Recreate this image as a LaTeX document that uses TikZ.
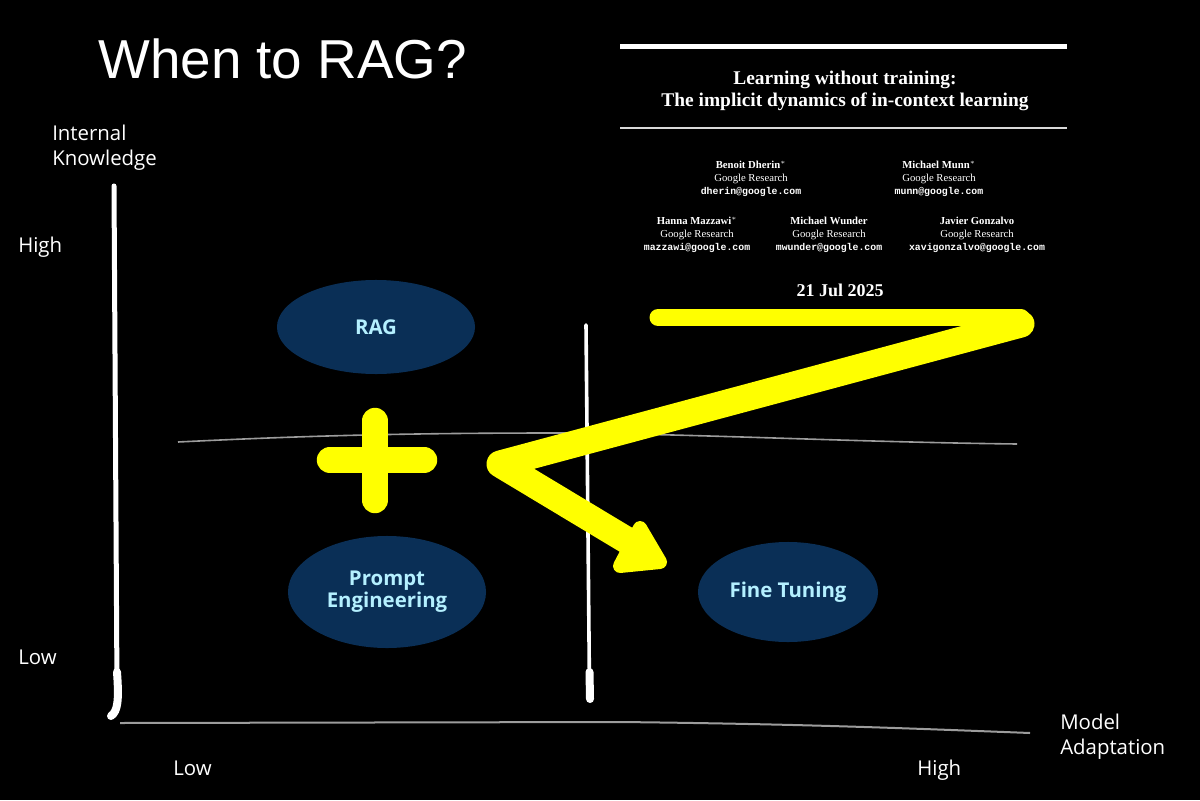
\documentclass[tikz,border=0pt]{standalone}
\usepackage{fontspec}
\setmainfont{Liberation Serif}
\setsansfont{Open Sans}
\setmonofont{Liberation Mono}
\newfontfamily\headfont{Liberation Sans}
\usepackage{tikz}
\usetikzlibrary{arrows.meta,positioning,shapes.geometric}
\definecolor{navy}{HTML}{0A2F56}
\definecolor{ice}{HTML}{B4F0FF}
\definecolor{marker}{HTML}{FFFF00}
\definecolor{rule}{HTML}{9C9C9C}
\newcommand{\gr}{Google Research}
\newcommand{\byline}[2]{\textbf{#1}\\\gr\\{\ttfamily\bfseries\fontsize{7}{9.2}\selectfont #2}}

\begin{document}
\begin{tikzpicture}[x=0.025cm,y=-0.025cm,
   blob/.style={ellipse,fill=navy,text=ice,inner sep=0pt,align=center,font=\sffamily\bfseries\fontsize{14.5}{15.5}\selectfont},
   lbl/.style={text=white,inner sep=0pt,align=left,font=\sffamily\fontsize{14.5}{17.8}\selectfont},
   who/.style={text=white,inner sep=0pt,align=center,font=\fontsize{7.6}{9.2}\selectfont},
   hl/.style={marker,line cap=round,line join=round}]
  \fill[black] (0,0) rectangle (1200,800);
  \useasboundingbox (0,0) rectangle (1200,800);
  % slide title
  \node[text=white,inner sep=0pt,anchor=base west,font=\headfont\fontsize{39}{44}\selectfont] (ttl) at (98,79) {When to RAG?};
  % axes
  \draw[white,line width=0.125cm,line cap=round] (114,186) -- (117,690);
  \draw[white,line width=0.2cm,line cap=round] (117,672) .. controls (119,700) and (118,711) .. (111,716);
  \draw[rule,line width=0.05cm] (120,723) -- (620,722) .. controls (800,724) and (900,728) .. (1030,733);
  \draw[rule,line width=0.04cm] (178,442) .. controls (300,436) and (400,433) .. (560,433) .. controls (700,434) and (850,442) .. (1017,444);
  \draw[white,line width=0.09cm,line cap=round] (586,325) -- (589.5,690);
  \draw[white,line width=0.2cm,line cap=round] (589.5,672) -- (590,699);
  \node[lbl,anchor=north west] (yname) at (52,125) {Internal\\Knowledge};
  \node[lbl,anchor=base west] (yhi) at (18,252) {High};
  \node[lbl,anchor=base west] (ylo) at (18,664) {Low};
  \node[lbl,anchor=base west] (xlo) at (173,775) {Low};
  \node[lbl,anchor=base west] (xhi) at (917,775) {High};
  \node[lbl,anchor=north west] (xname) at (1060,714) {Model\\Adaptation};
  % quadrants
  \node[blob,minimum width=4.95cm,minimum height=2.35cm] (rag) at (376,327) {RAG};
  \node[blob,minimum width=4.95cm,minimum height=2.8cm] (prompt) at (387,592) {Prompt\\Engineering};
  \node[blob,minimum width=4.5cm,minimum height=2.5cm] (tune) at (788,592) {Fine Tuning};
  % paper header
  \draw[white,line width=0.125cm] (620,47) -- (1067,47);
  \draw[white!85!black,line width=0.05cm] (620,128) -- (1067,128);
  \node[text=white,inner sep=0pt,align=center,font=\bfseries\fontsize{13.8}{16}\selectfont] (paper) at (845,91) {Learning without training:\\The implicit dynamics of in-context learning};
  \node[who] (a1) at (751,179) {\byline{Benoit Dherin$^*$}{dherin@google.com}};
  \node[who] (a2) at (939,179) {\byline{Michael Munn$^*$}{munn@google.com}};
  \node[who] (a3) at (697,235) {\byline{Hanna Mazzawi$^*$}{mazzawi@google.com}};
  \node[who] (a4) at (829,235) {\byline{Michael Wunder}{mwunder@google.com}};
  \node[who] (a5) at (977,235) {\byline{Javier Gonzalvo}{xavigonzalvo@google.com}};
  \node[text=white,inner sep=0pt,font=\bfseries\fontsize{12.8}{14}\selectfont] (date) at (840,290) {21 Jul 2025};
  % yellow marks
  \coordinate (p0) at (658,317.5);
  \coordinate (p1) at (1021,317.5);
  \coordinate (p2) at (1021,324);
  \coordinate (p3) at (500,464);
  \coordinate (p4) at (628,541);
  \draw[hl,line width=0.66cm] (375,421) -- (375,500) (330,460) -- (424,460);
  \draw[hl,line width=0.425cm] (p0) -- (p1);
  \draw[hl,line width=0.675cm] (p2) -- (p3) -- (p4);
  \filldraw[hl,line width=0.35cm] (640,528) -- (660,562) -- (620,566) -- cycle;
\end{tikzpicture}
\end{document}
